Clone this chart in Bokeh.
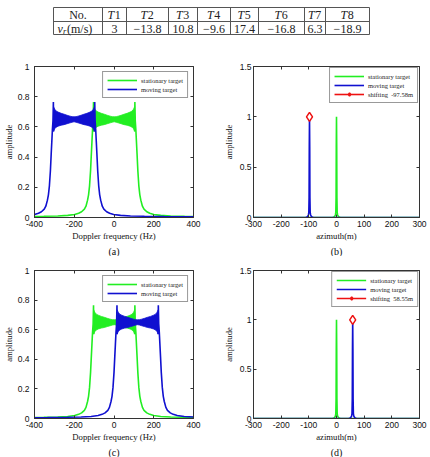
from bokeh.plotting import figure
from bokeh.layouts import column, row
from bokeh.models import (FixedTicker, LinearAxis, Legend, LegendItem, Range1d, Title)
from bokeh.embed import file_html
from bokeh.resources import INLINE
from bokeh.core.properties import value

# ---------------- table: radial velocity of each target ----------------
target_ids = ["1", "2", "3", "4", "5", "6", "7", "8"]
radial_velocity = ["3", "\u221213.8", "10.8", "\u22129.6", "17.4", "\u221216.8", "6.3", "\u221218.9"]

# ---------------- Doppler spectra ----------------
# ripple band envelope, offset (Hz) from the Doppler centroid
band_offset = [-103, -100, -96, -90, -80, -65, -50, -35, -20, -10, 0,
               10, 20, 35, 50, 65, 80, 90, 96, 100, 103]
band_upper = [0.735, 0.725, 0.715, 0.705, 0.698, 0.69, 0.684, 0.677, 0.671, 0.668, 0.667,
              0.668, 0.671, 0.677, 0.684, 0.69, 0.698, 0.705, 0.715, 0.725, 0.735]
band_lower = [0.57, 0.58, 0.59, 0.598, 0.605, 0.611, 0.615, 0.621, 0.627, 0.631, 0.634,
              0.631, 0.627, 0.621, 0.615, 0.611, 0.605, 0.598, 0.59, 0.58, 0.57]
# skirt outside the band: distance (Hz) from the band edge and amplitude
skirt_dist = [0, 2, 5, 8, 11, 15, 20, 25, 30, 38, 46, 60, 75, 95, 130, 180, 250, 350, 500, 700]
skirt_amp = [0.765, 0.64, 0.58, 0.5, 0.42, 0.31, 0.21, 0.15, 0.115, 0.075, 0.055, 0.038,
             0.028, 0.02, 0.014, 0.01, 0.008, 0.006, 0.005, 0.004]
band_edge = 104
centroid_stationary = 1
centroid_moving_a = -201
centroid_moving_c = 119

# ---------------- azimuth compressed profiles ----------------
peak_offset = [-700, -14, -9, -6, -4, -2.5, -1.5, -0.8, 0, 0.8, 1.5, 2.5, 4, 6, 9, 14, 700]
peak_amp = [0, 0, 0.006, 0.014, 0.025, 0.05, 0.2, 0.7, 1.0, 0.7, 0.2, 0.05, 0.025, 0.014, 0.006, 0, 0]
azimuth_stationary = 0.0
azimuth_moving_b = -97.58
azimuth_moving_d = 58.55

GREEN = "#22ee22"
BLUE = "#1010d0"
RED = "#ee1111"
FRAME = "#333333"
SANS = "Liberation Sans"
SERIF = "Liberation Serif"


def fmt(v):
    return ("%g" % v)


def make_axes(w, h, borders, xr, yr, xticks, yticks, xlabel, caption, standoff, ylab_standoff):
    left, right, top, bottom = borders
    p = figure(width=w, height=h, x_range=Range1d(*xr), y_range=Range1d(*yr),
               output_backend="svg", toolbar_location=None,
               min_border_left=left, min_border_right=right,
               min_border_top=top, min_border_bottom=bottom)
    p.grid.visible = False
    p.outline_line_color = FRAME
    p.outline_line_width = 1
    p.background_fill_color = "white"
    p.border_fill_color = "white"
    for ax, ticks in ((p.xaxis[0], xticks), (p.yaxis[0], yticks)):
        ax.ticker = FixedTicker(ticks=ticks)
        ax.major_label_overrides = {t: fmt(t) for t in ticks}
        ax.major_tick_in = 3
        ax.major_tick_out = 0
        ax.minor_tick_line_color = None
        ax.axis_line_color = FRAME
        ax.major_tick_line_color = FRAME
        ax.major_label_text_font = SANS
        ax.major_label_text_font_size = "8.5px"
        ax.major_label_text_color = "#111111"
        ax.axis_label_text_font = SERIF
        ax.axis_label_text_font_size = "8.7px"
        ax.axis_label_text_font_style = "normal"
        ax.axis_label_text_color = "#111111"
    p.xaxis[0].axis_label = xlabel
    p.yaxis[0].axis_label = "amplitude"
    p.xaxis[0].major_label_standoff = 3
    p.xaxis[0].axis_label_standoff = 1
    p.yaxis[0].major_label_standoff = standoff
    p.yaxis[0].axis_label_standoff = ylab_standoff
    # inward ticks on the top and right edges of the box (no labels there)
    for ticks, side in ((xticks, "above"), (yticks, "right")):
        ax = LinearAxis(ticker=FixedTicker(ticks=ticks), major_tick_in=3, major_tick_out=0,
                        minor_tick_line_color=None, axis_line_color=None,
                        major_tick_line_color=FRAME,
                        major_label_overrides={t: "" for t in ticks},
                        major_label_text_font_size="8px", major_label_standoff=0)
        p.add_layout(ax, side)
    p.add_layout(Title(text=caption, align="center", text_font=SERIF, text_font_size="10px",
                       text_font_style="normal", text_color="#111111", standoff=0), "below")
    return p


def spectrum(p, centroid, color):
    lo_edge = centroid - band_edge
    hi_edge = centroid + band_edge
    bx = [centroid + o for o in band_offset]
    p.varea(x=bx, y1=band_lower, y2=band_upper, fill_color=color)
    lx = [lo_edge - d for d in reversed(skirt_dist)] + [bx[0]]
    ly = list(reversed(skirt_amp)) + [band_lower[0]]
    rx = [bx[-1]] + [hi_edge + d for d in skirt_dist]
    ry = [band_lower[-1]] + list(skirt_amp)
    r1 = p.line(lx, ly, line_color=color, line_width=1.6)
    p.line(rx, ry, line_color=color, line_width=1.6)
    p.line(bx, band_upper, line_color=color, line_width=0.8)
    p.line(bx, band_lower, line_color=color, line_width=0.8)
    return r1


def legend(p, items, margin, loc="top_right"):
    lg = Legend(items=items, location=loc, margin=margin,
                label_text_font=SERIF, label_text_font_size="6.5px",
                label_text_color="#222222", label_height=8, label_standoff=4,
                glyph_width=30, glyph_height=8, spacing=1, padding=4,
                border_line_color=FRAME, border_line_width=1,
                background_fill_color="white", background_fill_alpha=1)
    p.add_layout(lg)


def doppler_panel(borders, h, centroid_moving, caption):
    p = make_axes(215, h, borders, (-400, 400), (0, 1), [-400, -200, 0, 200, 400],
                  [0, 0.2, 0.4, 0.6, 0.8, 1], "Doppler frequency (Hz)", caption, 5, 1)
    g = spectrum(p, centroid_stationary, GREEN)
    b = spectrum(p, centroid_moving, BLUE)
    legend(p, [LegendItem(label="stationary target", renderers=[g]),
               LegendItem(label="moving target", renderers=[b])], 5)
    return p


def azimuth_panel(borders, h, pos_moving, caption):
    p = make_axes(215, h, borders, (-300, 300), (0, 1.5), [-300, -200, -100, 0, 100, 200, 300],
                  [0, 0.5, 1, 1.5], "azimuth(m)", caption, 2, 3)
    g = p.line([azimuth_stationary + o for o in peak_offset], peak_amp,
               line_color=GREEN, line_width=1.6)
    b = p.line([pos_moving + o for o in peak_offset], peak_amp,
               line_color=BLUE, line_width=1.6)
    rl = p.line([pos_moving], [1.0], line_color=RED, line_width=1.6)
    rm = p.scatter([pos_moving], [1.0], marker="diamond", size=9, line_color=RED,
                   line_width=1.5, fill_color="white")
    legend(p, [LegendItem(label="stationary target", renderers=[g]),
               LegendItem(label="moving target", renderers=[b]),
               LegendItem(label="shifting  %.2fm" % pos_moving, renderers=[rl, rm])], 1)
    return p


# ---------------- table figure ----------------
col_x = [53, 102, 126, 168, 197, 230, 258, 304, 325, 369]
row_y = [7, 21, 34]
t = figure(width=430, height=45, x_range=Range1d(0, 430), y_range=Range1d(45, 0),
           output_backend="svg", toolbar_location=None, min_border=0,
           min_border_left=0, min_border_right=0, min_border_top=0, min_border_bottom=0,
           x_axis_type=None, y_axis_type=None)
t.grid.visible = False
t.outline_line_color = None
t.segment(x0=[col_x[0]] * 3, x1=[col_x[-1]] * 3, y0=row_y, y1=row_y,
          line_color="#555555", line_width=1)
t.segment(x0=col_x, x1=col_x, y0=[row_y[0]] * len(col_x), y1=[row_y[-1]] * len(col_x),
          line_color="#555555", line_width=1)
centers = [(col_x[i] + col_x[i + 1]) / 2 for i in range(len(col_x) - 1)]
hy = (row_y[0] + row_y[1]) / 2 + 0.5
vy = (row_y[1] + row_y[2]) / 2 + 0.5
txt = dict(text_font=value(SERIF), text_font_size="12px", text_baseline="middle",
           text_color="#222222")
t.text(x=[centers[0]], y=[hy], text=["No."], text_align="center", **txt)
t.text(x=[c - 0.3 for c in centers[1:]], y=[hy] * 8, text=["T"] * 8, text_align="right",
       text_font_style="italic", **txt)
t.text(x=[c + 0.2 for c in centers[1:]], y=[hy] * 8, text=target_ids, text_align="left", **txt)
t.text(x=centers[1:], y=[vy] * 8, text=radial_velocity, text_align="center", **txt)
t.text(x=[57], y=[vy], text=["v"], text_align="left", text_font_style="italic", **txt)
t.text(x=[62.5], y=[vy + 2.5], text=["r"], text_align="left", text_font_style="italic",
       text_font=value(SERIF), text_font_size="8.5px", text_baseline="middle",
       text_color="#222222")
t.text(x=[66.5], y=[vy], text=["(m/s)"], text_align="left", **txt)

pa = doppler_panel((28, 22, 21, 39), 211, centroid_moving_a, "(a)")
pb = azimuth_panel((38, 11, 21, 39), 211, azimuth_moving_b, "(b)")
pc = doppler_panel((28, 22, 14, 38), 201, centroid_moving_c, "(c)")
pd = azimuth_panel((38, 11, 14, 38), 201, azimuth_moving_d, "(d)")

layout = column(t, row(pa, pb), row(pc, pd))
open("out.html", "w").write(file_html(layout, INLINE))
